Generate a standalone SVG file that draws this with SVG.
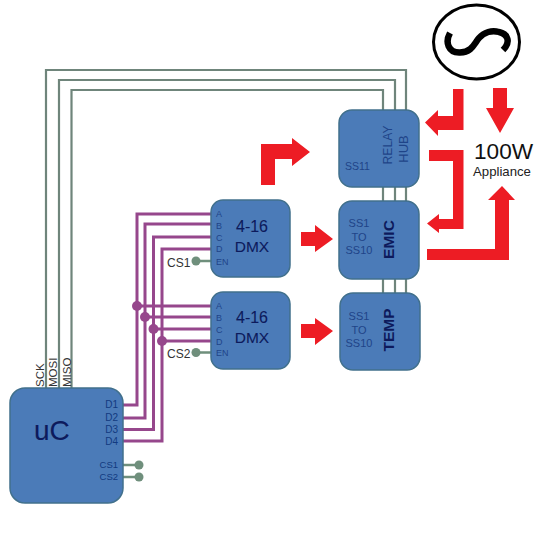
<svg xmlns="http://www.w3.org/2000/svg" width="540" height="535" viewBox="0 0 540 535">
<style>
text{font-family:"Liberation Sans",Arial,sans-serif}
.box{fill:#4b7bb8;stroke:#41708c;stroke-width:1.5}
.spi{fill:none;stroke:#6f857b;stroke-width:2.200}
.bus{fill:none;stroke:#96478c;stroke-width:3}
.cs{fill:none;stroke:#6f8f7c;stroke-width:2.500}
.csd{fill:#6f8f7c}
.bd{fill:#96478c}
.red{fill:#ed1c24}
.pin{font-size:9px;fill:#1f4488}
.dpin{font-size:10px;fill:#123a80}
.ss{font-size:11px;fill:#1f4488;text-anchor:middle}
.big{fill:#0d1a5c;stroke:#0d1a5c;stroke-width:.1}
.side{font-size:11.500px;fill:#333}
.lbl{font-size:12px;fill:#333}
</style>
<g id="connectors">
<polyline class="spi" points="46,388 46,70 406,70 406,293"/>
<polyline class="spi" points="59,388 59,80 395,80 395,293"/>
<polyline class="spi" points="71.500,388 71.500,90 383,90 383,293"/>
<polyline class="bus" points="123,405 137,405 137,214 211,214"/>
<polyline class="bus" points="123,418 145,418 145,224 211,224"/>
<polyline class="bus" points="123,429.500 153.500,429.500 153.500,237 211,237"/>
<polyline class="bus" points="123,441 162,441 162,249 211,249"/>
<path class="bus" d="M137,306H211M145,317H211M153.500,329H211M162,341H211"/>
<g class="bd"><circle cx="137" cy="306" r="5"/><circle cx="145" cy="317" r="5"/><circle cx="153.500" cy="329" r="5"/><circle cx="162" cy="341" r="5"/></g>
<path class="cs" d="M196,261H211M196,352.500H211M123,465H139M123,477H139"/>
<g class="csd"><circle cx="196" cy="261" r="4.500"/><circle cx="196" cy="352.500" r="4.500"/><circle cx="139" cy="465" r="4.500"/><circle cx="139" cy="477" r="4.500"/></g>
<polygon class="red" points="261,185 275,185 275,159 292,159 292,166 310,152 292,138 292,144 261,144"/>
<polygon class="red" points="301,232 315,232 315,225 333,239 315,252 315,246 301,246"/>
<polygon class="red" points="301,324 315,324 315,318 333,331 315,345 315,338 301,338"/>
<polygon class="red" points="453,89 463.500,89 463.500,130 438,130 438,136 425,122.500 438,110 438,116 453,116"/>
<polygon class="red" points="429,150 463.500,150 463.500,229 439,229 439,233 427,223.500 439,214 439,219 453,219 453,161 429,161"/>
<polygon class="red" points="427,249 495,249 495,200 488,200 502,186 515,200 509,200 509,260 427,260"/>
<polygon class="red" points="493,88 507,88 507,108 514,108 500,133 486,108 493,108"/>
</g>
<g id="uC">
<rect class="box" x="10" y="388" width="113" height="115" rx="15"/>
<text x="34" y="440" font-size="28" class="big">uC</text>
<g text-anchor="end" class="dpin"><text x="118" y="408">D1</text><text x="118" y="420.500">D2</text><text x="118" y="433">D3</text><text x="118" y="445">D4</text></g>
<g text-anchor="end" style="font-size:9.500px;fill:#123a80"><text x="118" y="468">CS1</text><text x="118" y="480">CS2</text></g>
<text class="side" transform="translate(44,387) rotate(-90)">SCK</text>
<text class="side" transform="translate(57,387) rotate(-90)">MOSI</text>
<text class="side" transform="translate(70.500,387) rotate(-90)">MISO</text>
</g>
<g id="dmx1">
<rect class="box" x="211" y="200" width="79" height="77" rx="12"/>
<g class="pin"><text x="216" y="217">A</text><text x="216" y="228.500">B</text><text x="216" y="240.500">C</text><text x="216" y="252">D</text><text x="216" y="264.500">EN</text></g>
<g class="big" text-anchor="middle"><text x="252" y="232" font-size="16">4-16</text><text x="252" y="252" font-size="15.500">DMX</text></g>
<text class="lbl" x="167" y="266.500">CS1</text>
</g>
<g id="dmx2">
<rect class="box" x="211" y="292" width="79" height="77" rx="12"/>
<g class="pin"><text x="216" y="309">A</text><text x="216" y="321">B</text><text x="216" y="333">C</text><text x="216" y="344.500">D</text><text x="216" y="356">EN</text></g>
<g class="big" text-anchor="middle"><text x="252" y="323" font-size="16">4-16</text><text x="252" y="343" font-size="15.500">DMX</text></g>
<text class="lbl" x="167" y="357.500">CS2</text>
</g>
<g id="relay">
<rect class="box" x="339" y="110" width="80" height="77" rx="13"/>
<text x="345" y="170" font-size="10.500" fill="#1f4488">SS11</text>
<g fill="#1f4488" text-anchor="middle"><text transform="translate(391.500,145) rotate(-90)" font-size="12.200">RELAY</text><text transform="translate(408,149) rotate(-90)" font-size="13">HUB</text></g>
</g>
<g id="emic">
<rect class="box" x="339" y="201" width="80" height="78" rx="13"/>
<g class="ss"><text x="359" y="227">SS1</text><text x="359" y="241">TO</text><text x="359" y="254">SS10</text></g>
<text transform="translate(394,239.500) rotate(-90)" font-size="15.500" font-weight="bold" fill="#0d1a5c" text-anchor="middle">EMIC</text>
</g>
<g id="temp">
<rect class="box" x="340" y="293" width="80" height="77" rx="13"/>
<g class="ss"><text x="359" y="320">SS1</text><text x="359" y="334">TO</text><text x="359" y="347">SS10</text></g>
<text transform="translate(394,330) rotate(-90)" font-size="15.500" font-weight="bold" fill="#0d1a5c" text-anchor="middle">TEMP</text>
</g>
<g id="source">
<ellipse cx="476.500" cy="42" rx="43" ry="37" fill="#fff" stroke="#000" stroke-width="3"/>
<path d="M450,33C445,42 448,53 460,52.500C472,52 474,44 479,38C484,32 492,30 499,32C508,34 511,42 503,50" fill="none" stroke="#000" stroke-width="6.500"/>
</g>
<g id="appliance">
<text x="474" y="159" font-size="22.600" fill="#111">100W</text>
<text x="473" y="176" font-size="13.200" fill="#222">Appliance</text>
</g>
</svg>
